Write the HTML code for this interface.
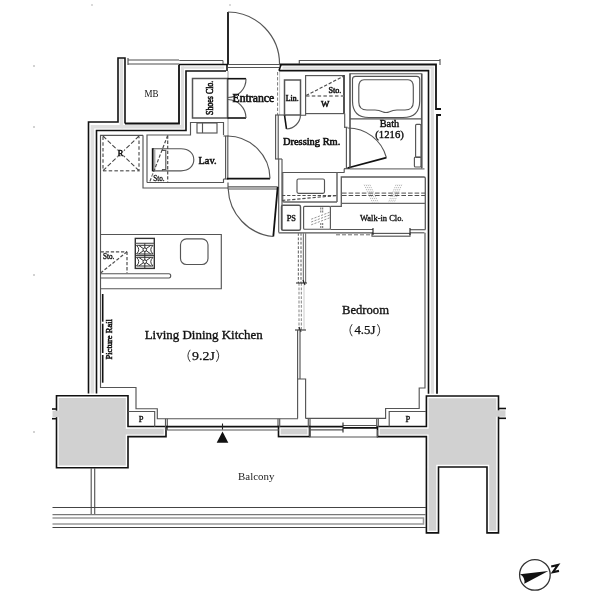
<!DOCTYPE html>
<html>
<head>
<meta charset="utf-8">
<title>Floor plan</title>
<style>
html,body{margin:0;padding:0;background:#fff;}
body{width:600px;height:599px;overflow:hidden;font-family:"Liberation Serif",serif;}
svg{display:block;filter:grayscale(1);}
text{font-family:"Liberation Serif",serif;fill:#111;stroke:#111;stroke-width:0.25;}
.k{stroke:#111;fill:none;stroke-width:1.6;}
.k2{stroke:#111;fill:none;stroke-width:1.8;}
.k1{stroke:#222;fill:none;stroke-width:1.1;}
.dd{stroke:#888;fill:none;stroke-width:0.9;stroke-dasharray:2.2 1.3;}
.g{stroke:#555;fill:none;stroke-width:1.15;}
.g2{stroke:#555;fill:none;stroke-width:1.5;}
.lg{stroke:#999;fill:none;stroke-width:1;}
.d{stroke:#4d4d4d;fill:none;stroke-width:1.2;stroke-dasharray:3.3 1.8;}
.band{stroke:#dfdfdf;fill:none;stroke-width:3.6;stroke-linejoin:miter;}
.pa{stroke:#222;fill:none;stroke-width:0.9;}
.pf{fill:#d2d2d2;stroke:#111;stroke-width:1.6;}
</style>
</head>
<body>
<svg width="600" height="599" viewBox="0 0 600 599">
<rect x="0" y="0" width="600" height="599" fill="#fff"/>

<g fill="#999"><circle cx="34" cy="66" r="0.8"/><circle cx="34" cy="127" r="0.8"/><circle cx="34" cy="275" r="0.8"/><circle cx="34" cy="432" r="0.8"/><circle cx="92" cy="5" r="0.7"/><circle cx="230" cy="5" r="0.7"/></g>
<!-- ===== WALL FILLS ===== -->
<g id="wallfill">
<polyline class="band" points="121.4,59 121.4,126.8 92.4,126.8 92.4,395"/>
<polyline class="band" points="121.4,126.8 182.5,126.8" />
<polyline class="band" points="182.5,128.6 182.5,66.4" style="stroke-width:3"/>
<polyline class="band" points="182.5,67.6 224,67.6" style="stroke-width:2.4"/>
<polyline class="band" points="282.5,67.6 432.6,67.6" style="stroke-width:2.4"/>
<polyline class="band" points="432.4,66.4 432.4,395" style="stroke-width:3.2"/>
</g>

<!-- ===== WALL LINES ===== -->
<g id="walls">
<!-- left/top wall outer -->
<polyline class="k" points="125,123.5 125,58 118,58 118,122 88.5,122 88.5,396"/>
<polyline class="k2" points="125,123.5 179,123.5 179,64.5"/>
<polyline class="k" points="179,64.5 228,64.5"/>
<polyline class="k" points="226,71 186,71 186,130.5 96.5,130.5 96.5,396"/>
<!-- mid grey lines in wall -->

<!-- top right wall -->
<polyline class="k2" points="279.5,64.5 436,64.5 436,109 441,109"/>
<polyline class="k2" points="441,115 437,115 437,396"/>
<polyline class="k" points="279,70.6 428.5,70.6 428.5,396"/>

<!-- thin line above top wall -->
<polyline class="g" points="179.3,60.5 223,60.5 223,64" style="stroke-width:1"/>
<polyline class="g" points="299.3,64 299.3,60.5 440,60.5"/>
<line class="g" x1="440" y1="59" x2="440" y2="65"/>
<!-- MB door -->
<line class="g" x1="128" y1="60" x2="179" y2="60" style="stroke:#888;stroke-width:1.4"/>
<line class="g" x1="128" y1="64" x2="179" y2="64" style="stroke:#888;stroke-width:1.4"/>
<line class="g" x1="128" y1="58" x2="128" y2="65"/>
</g>

<!-- ===== PILLARS ===== -->
<g id="pillars">
<defs>
<polygon id="pl" points="56.5,395.7 128,395.7 128,426.5 166,426.5 166,436.6 128,436.6 128,467.7 56.5,467.7"/>
<rect id="pm" x="278.5" y="426.5" width="31" height="10.1"/>
<polygon id="pr" points="426.4,396 498.5,396 498.5,532.9 487,532.9 487,467 438.5,467 438.5,532.9 426.4,532.9 426.4,436.6 377.5,436.6 377.5,426.5 426.4,426.5"/>
</defs>
<use href="#pl" fill="#d1d1d1"/><use href="#pl" fill="none" stroke="#fff" stroke-width="4.4"/><use href="#pl" class="k"/>
<rect x="52.5" y="410.6" width="8" height="6.6" fill="#d1d1d1"/>
<rect x="51" y="408.2" width="4.6" height="2.2" fill="#fff"/><rect x="51" y="417.3" width="4.6" height="2.2" fill="#fff"/>
<line class="k" x1="52" y1="409" x2="57" y2="409"/>
<line class="k" x1="52" y1="418.7" x2="57" y2="418.7"/>
<use href="#pm" fill="#d1d1d1"/><use href="#pm" fill="none" stroke="#fff" stroke-width="4.4"/><use href="#pm" class="k"/>
<use href="#pr" fill="#d1d1d1"/><use href="#pr" fill="none" stroke="#fff" stroke-width="4.4"/><use href="#pr" class="k"/>
<rect x="496" y="410.3" width="9.5" height="6.4" fill="#d1d1d1"/>
<line class="k" x1="498" y1="408.5" x2="506" y2="408.5"/>
<line class="k" x1="498" y1="418.3" x2="506" y2="418.3"/>
</g>

<text x="144.4" y="96.6" font-size="10" textLength="14" lengthAdjust="spacingAndGlyphs" style="stroke:none">MB</text>

<!-- ===== ENTRANCE DOOR ===== -->
<g id="entrance">
<line class="k2" x1="228" y1="12" x2="228" y2="65"/>
<path class="g" d="M228,12 A52,52 0 0 1 279.5,65"/>
<line class="g" x1="228" y1="64.5" x2="279.5" y2="64.5"/>
<line class="g" x1="228" y1="67.5" x2="279.5" y2="67.5"/>
<line class="k" x1="227" y1="65" x2="227" y2="71"/>
<line class="k" x1="281" y1="64.5" x2="279" y2="70.7"/>
<line class="lg" x1="228" y1="71" x2="228" y2="136"/>
<line class="d" x1="277.6" y1="72" x2="277.6" y2="115" style="stroke:#777;stroke-width:1"/><line class="lg" x1="279.6" y1="72" x2="279.6" y2="115" style="stroke:#ccc"/>
</g>

<!-- ===== SHOES CLOSET ===== -->
<g id="shoes">
<rect class="g2" x="192.5" y="78.5" width="35" height="39.5"/>
<line class="k" x1="227.5" y1="78.7" x2="246" y2="78.7"/>
<line class="k" x1="227.5" y1="118" x2="246" y2="118"/>
<path class="g" d="M246,78.7 A18.5,18.5 0 0 1 228,97.5"/>
<path class="g" d="M246,118 A18.5,18.5 0 0 0 228,99.5"/>
<text transform="translate(213,115) rotate(-90)" font-size="9.6" textLength="34.3" lengthAdjust="spacingAndGlyphs" style="stroke-width:0.55">Shoes Clo.</text>
</g>
<text x="232.5" y="101.6" font-size="12" textLength="41.7" lengthAdjust="spacingAndGlyphs" style="stroke-width:0.6">Entrance</text>

<!-- ===== LINEN ===== -->
<g id="linen">
<rect class="g2" x="284.5" y="80" width="16" height="35"/>
<line class="k" x1="284.5" y1="115" x2="286.5" y2="129"/>
<path class="g" d="M286.5,129 A14.5,14.5 0 0 0 300.5,115"/>
<text x="285.8" y="100.8" font-size="8.3" textLength="12.8" lengthAdjust="spacingAndGlyphs" style="stroke-width:0.55">Lin.</text>
</g>

<!-- ===== W / STO ===== -->
<g id="wsto">
<rect class="g" x="305.6" y="75.6" width="38.4" height="38"/>
<line class="k" x1="344" y1="75" x2="344" y2="113.6" style="stroke:#333;stroke-width:1.4"/><polyline class="g" points="305.6,113.6 305.6,115.2 300.5,115.2"/>
<line class="d" x1="306" y1="95.6" x2="344" y2="76"/>
<line class="d" x1="306" y1="95.9" x2="344" y2="95.9" style="stroke:#777;stroke-width:1.5;stroke-dasharray:3.5 2.3"/>
<text x="328.4" y="92.8" font-size="8.5" textLength="12.9" lengthAdjust="spacingAndGlyphs" style="stroke-width:0.5">Sto.</text>
<text x="321" y="107.2" font-size="8.2" textLength="8.4" lengthAdjust="spacingAndGlyphs" style="stroke-width:0.5">W</text>
</g>

<!-- ===== DRESSING ROOM ===== -->
<g id="dressing">
<line class="g" x1="275.6" y1="115" x2="275.6" y2="159"/>
<line class="g" x1="278.2" y1="115" x2="278.2" y2="159"/>
<line class="g" x1="275" y1="115" x2="285" y2="115"/>
<line class="g" x1="275" y1="159" x2="282" y2="159"/>
<line class="g" x1="278.7" y1="159" x2="278.7" y2="232.5"/>
<line class="g" x1="282" y1="159" x2="282" y2="230"/>
<!-- wall to bath -->
<line class="g" x1="344.7" y1="113.6" x2="344.7" y2="127.3"/>
<line class="g" x1="346.4" y1="127.3" x2="346.4" y2="168.7"/>
<line class="g" x1="350" y1="73.6" x2="350" y2="168"/>
<line class="g" x1="344" y1="127.3" x2="347.5" y2="127.3"/>
<line class="g" x1="344" y1="168.7" x2="350" y2="168.7"/>
<line class="g" x1="344.2" y1="168.7" x2="344.2" y2="172.5"/>
<text x="283" y="145" font-size="10.4" textLength="57.3" lengthAdjust="spacingAndGlyphs" style="stroke-width:0.6">Dressing Rm.</text>
<!-- bath door -->
<line class="k2" x1="347.5" y1="168" x2="386.4" y2="157.6"/>
<path class="g" d="M386.4,157.6 A40,40 0 0 0 347.5,128"/>
</g>

<!-- ===== BATH ===== -->
<g id="bath">
<polyline class="g" points="350,168.8 350,73.7 421.5,73.7 421.5,168.8"/>
<line class="lg" x1="422.5" y1="73.6" x2="422.5" y2="168"/>
<line class="g" x1="350" y1="118.9" x2="421.5" y2="118.9"/>
<line class="g" x1="350" y1="168.8" x2="424.5" y2="168.8" style="stroke:#777"/>
<path class="g" d="M355.5,76.3 H416.7 Q419.7,76.3 419.7,79.3 V101 Q419.7,117.5 403,117.5 H369 Q352.5,117.5 352.5,101 V79.3 Q352.5,76.3 355.5,76.3 Z"/>
<path class="g" d="M364,79.7 H408 Q413.3,79.7 413.3,87 V102 Q413.3,110 405,110 H397 Q393,110 389.5,111.7 Q386,113.3 382.5,111.7 Q379,110 375,110 H367 Q358.8,110 358.8,102 V87 Q358.8,79.7 364,79.7 Z"/>
<rect class="g" x="415.6" y="124.4" width="5.4" height="33" rx="1"/>
<rect class="g" x="414.4" y="157" width="6.6" height="10" rx="1"/>
<text x="379.7" y="126.5" font-size="11" textLength="19.5" lengthAdjust="spacingAndGlyphs" style="stroke-width:0.45">Bath</text>
<text x="375.3" y="137.8" font-size="11" textLength="28.5" lengthAdjust="spacingAndGlyphs" style="stroke-width:0.4">(1216)</text>
</g>

<!-- ===== VANITY ===== -->
<g id="vanity">
<polyline class="g" points="282,172.5 344.4,172.5"/>
<line class="g2" x1="337" y1="172.5" x2="337" y2="202" style="stroke:#666"/>

<path class="g2" d="M282.6,172.5 V200.5 Q282.6,202 284,202 H337" style="stroke:#666"/>

<rect class="g" x="297" y="179" width="27.5" height="14.3" rx="1.5"/>
<line class="d" x1="282" y1="195.5" x2="337" y2="195.5"/>
<line class="d" x1="282" y1="200.5" x2="337" y2="195.5"/>
</g>

<!-- ===== WALK-IN CLOSET ===== -->
<g id="wic">
<path class="g" d="M330.4,206.4 H341.3 V177 H424 Q425.3,177 425.3,178.3 V229.5" style="stroke-width:1.3;stroke:#5a5a5a"/>

<line class="g" x1="341.2" y1="203.4" x2="425.5" y2="203.4" style="stroke:#666"/>
<line class="d" x1="342" y1="193.1" x2="425" y2="193.1" style="stroke-dasharray:4.6 2;stroke:#444;stroke-width:0.95"/>
<line class="d" x1="342" y1="195.5" x2="425" y2="195.5" style="stroke-dasharray:4.6 2;stroke:#444;stroke-width:0.95"/>
<!-- hangers -->
<g class="dd" style="stroke:#999;stroke-width:0.7;stroke-dasharray:1.4 1">
<line x1="364.2" y1="184.7" x2="372.5" y2="202.5"/><line x1="366.1" y1="184.7" x2="374.4" y2="202.5"/><line x1="368" y1="184.7" x2="376.3" y2="202.5"/><line x1="369.9" y1="184.7" x2="378.2" y2="202.5"/>
<line x1="401.7" y1="184.7" x2="394.2" y2="202.5"/><line x1="399.8" y1="184.7" x2="392.3" y2="202.5"/><line x1="397.9" y1="184.7" x2="390.4" y2="202.5"/><line x1="396" y1="184.7" x2="388.5" y2="202.5"/>
</g>
<text x="360" y="220.5" font-size="9" textLength="43.5" lengthAdjust="spacingAndGlyphs" style="stroke-width:0.35">Walk-in Clo.</text>
<!-- PS -->
<rect class="g" x="281.5" y="205.3" width="19" height="25" rx="1.5" style="stroke-width:1.4"/>
<text x="286.7" y="221.3" font-size="8.8" textLength="9.3" lengthAdjust="spacingAndGlyphs" style="stroke-width:0.4">PS</text>
<!-- box -->

<rect class="g" x="303.6" y="206.4" width="26.8" height="22.8" rx="1"/>
<path class="dd" d="M320.8,207.5 V213 M320.8,223 V229 M322.7,207.5 V213 M322.7,223 V229" style="stroke:#555;stroke-dasharray:2 1"/>

<line class="dd" x1="311.2" y1="219.2" x2="329.8" y2="212.2"/>
<line class="dd" x1="311.2" y1="222" x2="329.8" y2="215"/>
<line class="dd" x1="311.2" y1="224.8" x2="329.8" y2="217.8"/>
<!-- bottom wall -->
<line class="g" x1="330.4" y1="229.5" x2="373" y2="229.5"/>
<line class="g" x1="278.7" y1="232.8" x2="373" y2="232.8"/>
<line class="g" x1="410" y1="229.7" x2="425.5" y2="229.7"/>
<line class="g" x1="410" y1="232.8" x2="424.4" y2="232.8"/>
<rect class="g" x="372" y="233.4" width="38" height="2.8"/>
<line class="k1" x1="373" y1="228" x2="373" y2="235"/>
<line class="k1" x1="410" y1="228" x2="410" y2="235"/>
<line class="d" x1="336" y1="234.8" x2="372" y2="234.8" style="stroke:#666;stroke-width:0.95;stroke-dasharray:4 2"/>
</g>

<!-- ===== LAV ===== -->
<g id="lav">
<!-- finish line left wall -->
<polyline class="g" points="143,135.3 100.5,135.3 100.5,387.5 136,387.5 136,408.7 157.3,408.7 157.3,418.7 298,418.7"/>
<!-- R -->
<polyline class="d" points="103,136.5 103,170.7 139,170.7 139,136.5" style="stroke:#777;stroke-width:1.5;stroke-dasharray:3.5 2.2"/>
<line class="d" x1="103" y1="136" x2="139" y2="170.7" style="stroke:#444;stroke-width:1.05;stroke-dasharray:4.5 2"/>
<line class="d" x1="139" y1="136" x2="103" y2="170.7" style="stroke:#444;stroke-width:1.05;stroke-dasharray:4.5 2"/>
<rect x="117.3" y="149.5" width="6.5" height="7" fill="#fff"/>
<text x="117.8" y="155.9" font-size="8.5" textLength="5.6" lengthAdjust="spacingAndGlyphs" style="stroke-width:0.55">R</text>
<!-- wall between R and lav -->
<polyline class="g" points="143,135.3 143,188 228,188"/>
<polyline class="g" points="147,182.5 147,135 190.5,135 190.5,122.5 223.5,122.5 223.5,135"/>
<polyline class="g" points="147,182.5 223.5,182.5 223.5,179"/>

<!-- shelf -->
<rect class="g" x="197" y="123" width="20" height="10"/>
<line class="g" x1="202.5" y1="123" x2="202.5" y2="133"/>
<!-- toilet -->
<path class="g" d="M152.7,148.7 H181 C189,148.7 193.8,153.5 193.8,159.8 C193.8,166 189,170.8 181,170.8 H152.7"/>
<line class="k" x1="152.7" y1="148.2" x2="152.7" y2="171.3" style="stroke-width:1.8"/>
<line class="lg" x1="154.8" y1="149.5" x2="154.8" y2="170" style="stroke:#888"/>
<polyline class="g" points="162.5,148.7 162.5,150.3 165.8,150.3 165.8,169.5 162.5,169.5 162.5,170.8"/>
<!-- sto -->
<line class="d" x1="167.7" y1="135.5" x2="167.7" y2="183"/>
<line class="d" x1="167.7" y1="135.5" x2="149.3" y2="183"/>
<rect x="152.6" y="174.5" width="12.6" height="7" fill="#fff"/><text x="153.2" y="180.7" font-size="8.5" textLength="11.5" lengthAdjust="spacingAndGlyphs" style="stroke-width:0.35">Sto.</text>
<text x="198.5" y="163.7" font-size="11" style="stroke-width:0.55" textLength="18" lengthAdjust="spacingAndGlyphs">Lav.</text>
<!-- lav door -->
<line class="g" x1="225.6" y1="136" x2="225.6" y2="179"/>
<line class="g" x1="227.8" y1="136" x2="227.8" y2="179"/>
<line class="g" x1="223.5" y1="136" x2="228.5" y2="136"/>
<line class="g" x1="223.5" y1="179" x2="228.5" y2="179"/>
<line class="k2" x1="227" y1="178.6" x2="270" y2="178.6"/>
<path class="g" d="M270,178.6 A43,43 0 0 0 227.5,136"/>
</g>

<!-- ===== HALL DOOR ===== -->
<g id="halldoor">
<line class="g" x1="228" y1="186.8" x2="277.7" y2="186.8"/>
<line class="g" x1="228" y1="189" x2="277.7" y2="189"/>
<line class="g" x1="228" y1="182.5" x2="228" y2="189"/>
<line class="k2" x1="277.7" y1="187" x2="273.3" y2="236.5"/>
<path class="g" d="M273.3,236.5 A49.7,49.7 0 0 1 228.2,189"/>
</g>

<!-- ===== KITCHEN ===== -->
<g id="kitchen">
<polyline class="g" points="100.6,234.5 221.3,234.5 221.3,288.7 100.6,288.7"/>
<path class="g" d="M100.6,273.7 H169 Q170.7,273.7 170.7,275.8 Q170.7,278 169,278 H100.6"/>
<rect x="135.3" y="238.4" width="19" height="30" fill="#fff" stroke="#333" stroke-width="1.4"/>
<line class="g" x1="135.3" y1="243.3" x2="154.3" y2="243.3"/>
<g stroke="#333" stroke-width="1" fill="none">
<line x1="144.8" y1="243.3" x2="144.8" y2="268"/>
<line x1="135.3" y1="255.6" x2="154.3" y2="255.6"/>
<path d="M136.5,245.3 Q141,249.7 136.5,254 M153,245.3 Q148.5,249.7 153,254 M136.5,245.3 H153 M136.5,254 H153"/>
<path d="M136.5,257.3 Q141,261.7 136.5,266 M153,257.3 Q148.5,261.7 153,266 M136.5,257.3 H153 M136.5,266 H153"/>
<path d="M139,245.5 L150.6,253.8 M150.6,245.5 L139,253.8 M139,257.5 L150.6,265.8 M150.6,257.5 L139,265.8"/>
<circle cx="144.8" cy="249.7" r="1.8" fill="#fff"/><circle cx="144.8" cy="261.7" r="1.8" fill="#fff"/>
</g>
<rect class="g" x="180.5" y="238.8" width="27.5" height="25.7" rx="6"/>
<line class="d" x1="100.6" y1="251.8" x2="127" y2="251.8"/>
<line class="d" x1="127" y1="251.8" x2="127" y2="273"/>
<line class="d" x1="127" y1="251.8" x2="100.6" y2="273"/>
<text x="103" y="259.3" font-size="8.3" textLength="11.3" lengthAdjust="spacingAndGlyphs" style="stroke-width:0.4">Sto.</text>
</g>

<!-- ===== PICTURE RAIL ===== -->
<g id="prail">
<line class="k" x1="102.7" y1="294" x2="102.7" y2="382.7"/>
<rect x="101.5" y="321.7" width="2.5" height="2" fill="#fff"/>
<rect x="101.5" y="353" width="2.5" height="2" fill="#fff"/>
<text transform="translate(111.6,359.5) rotate(-90)" font-size="8.2" textLength="40.5" lengthAdjust="spacingAndGlyphs" style="stroke-width:0.5">Picture Rail</text>
</g>

<!-- ===== LDK TEXT ===== -->
<text x="144.7" y="338.8" font-size="13" textLength="118" lengthAdjust="spacingAndGlyphs" style="stroke-width:0.35">Living Dining Kitchen</text>
<text x="192" y="360" font-size="12" textLength="22.8" lengthAdjust="spacingAndGlyphs">9.2J</text><path class="pa" d="M190.2,349.8 Q185.6,355.8 190.2,361.8 M216.4,349.8 Q221,355.8 216.4,361.8"/>
<text x="342" y="314.4" font-size="13" textLength="47" lengthAdjust="spacingAndGlyphs" style="stroke-width:0.35">Bedroom</text>
<text x="354.4" y="334.4" font-size="12" textLength="21" lengthAdjust="spacingAndGlyphs">4.5J</text><path class="pa" d="M352.2,324.2 Q347.6,330.2 352.2,336.2 M377.4,324.2 Q382,330.2 377.4,336.2"/>
<text x="238" y="480.2" font-size="11" textLength="36.4" lengthAdjust="spacingAndGlyphs" style="stroke:none;fill:#222">Balcony</text>

<!-- ===== SLIDING PARTITION ===== -->
<g id="partition">
<line class="d" x1="298.4" y1="233" x2="298.4" y2="283" style="stroke:#777;stroke-dasharray:2.8 1.6"/>
<line class="d" x1="301" y1="233" x2="301" y2="283" style="stroke:#777;stroke-dasharray:2.8 1.6"/>
<line class="g" x1="303.4" y1="233" x2="303.4" y2="283" style="stroke:#777"/>
<line class="g" x1="305.6" y1="233" x2="305.6" y2="283" style="stroke:#777"/>
<line class="d" x1="299" y1="283" x2="299" y2="330" style="stroke:#999;stroke-dasharray:2.8 1.6"/>
<line class="d" x1="301.4" y1="283" x2="301.4" y2="330" style="stroke:#999;stroke-dasharray:2.8 1.6"/>
<line class="lg" x1="304" y1="283" x2="304" y2="330" style="stroke:#ccc"/>
<path class="k1" d="M296,283 H307 M303,280 L305,285"/>
<path class="k1" d="M295,330 H306 M299,327 L301,332"/>
<line class="g" x1="297.6" y1="330" x2="297.6" y2="418.4"/>
<line class="g" x1="300" y1="330" x2="300" y2="379"/>
<polyline class="g" points="297.6,379 305.6,379 305.6,418.4"/>
</g>

<!-- ===== P BOXES ===== -->
<g id="pbox">
<polyline class="g" points="128,411.5 154.7,411.5 154.7,426.7"/>
<text x="138.8" y="422.3" font-size="8.5" style="stroke-width:0.35">P</text>
<polyline class="g" points="426,411.5 389.2,411.5 389.2,426.5"/>
<text x="405.6" y="421.8" font-size="8.5" style="stroke-width:0.35">P</text>
<polyline class="g" points="425,232.8 425,388 419.2,388 419.2,408.5 385.6,408.5 385.6,418.4 305.6,418.4"/>
</g>

<!-- ===== WINDOWS ===== -->
<g id="windows">
<line class="g" x1="165.5" y1="418.7" x2="165.5" y2="430"/>
<line class="g" x1="167.3" y1="418.7" x2="167.3" y2="430"/>
<line class="g" x1="278" y1="418.7" x2="278" y2="427"/>
<line class="g" x1="279.7" y1="418.7" x2="279.7" y2="427"/>
<line class="k2" x1="166" y1="426.7" x2="279" y2="426.7"/>
<line class="g" x1="166" y1="430" x2="279" y2="430"/>
<line class="k1" x1="222.5" y1="423.5" x2="222.5" y2="429.5"/>
<polygon points="222.5,431.5 216.7,442.7 228.3,442.7" fill="#111"/>
<!-- bedroom window -->
<line class="g" x1="308.3" y1="418.4" x2="308.3" y2="427"/>
<line class="g" x1="310" y1="418.4" x2="310" y2="437"/>
<line class="g" x1="376.7" y1="418.4" x2="376.7" y2="427"/>
<line class="g" x1="378.3" y1="418.4" x2="378.3" y2="427"/>
<line class="k2" x1="309" y1="426.7" x2="343" y2="426.7"/>
<line class="k2" x1="343" y1="427.8" x2="378" y2="427.8"/>
<line class="g" x1="310" y1="429.9" x2="343" y2="429.9"/>
<line class="g" x1="343" y1="425.5" x2="377" y2="425.5"/>
<line class="k1" x1="343" y1="422.5" x2="343" y2="432.5"/>
<polyline class="g" points="310,427 310,437 377.5,437 377.5,430"/>
</g>

<!-- ===== BALCONY ===== -->
<g id="balcony">
<line class="g" x1="91.2" y1="468" x2="91.2" y2="514.8"/>
<line class="g" x1="94.7" y1="468" x2="94.7" y2="514.8"/>
<line x1="52.5" y1="507.5" x2="426" y2="507.5" stroke="#444" stroke-width="1"/>
<line x1="52.5" y1="514.6" x2="426" y2="514.6" stroke="#777" stroke-width="1.4"/>
<polyline points="52.5,518 423.5,518 423.5,524 52.5,524" fill="none" stroke="#999" stroke-width="1.5"/>
<line x1="52.5" y1="527.5" x2="426" y2="527.5" stroke="#444" stroke-width="1"/>
</g>

<!-- ===== COMPASS ===== -->
<g id="compass">
<circle cx="534.9" cy="574.9" r="15.3" fill="#fff" stroke="#333" stroke-width="1.3"/>
<path d="M548.3,571 L520,574.2 A9,9 0 0 1 524.3,583.8 Z" fill="#111"/>
<path d="M551.2,566.5 L558,564.9 L552.9,572.2 L559,570.9" fill="none" stroke="#111" stroke-width="2.1" stroke-linejoin="miter"/>
</g>
</svg>
</body>
</html>
